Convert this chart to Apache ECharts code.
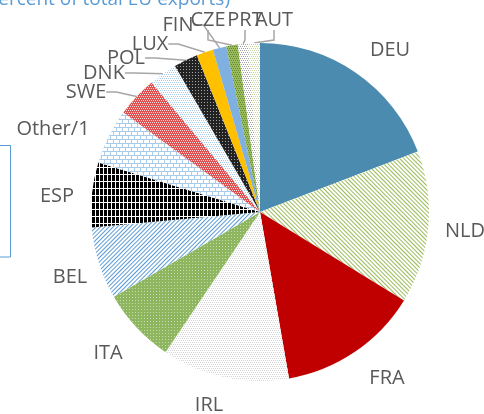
<!DOCTYPE html>
<html>
<head>
<meta charset="utf-8">
<script src="https://cdn.jsdelivr.net/npm/echarts@6/dist/echarts.min.js"></script>
<style>
  html, body { margin: 0; padding: 0; background: #fff; }
  #chart { width: 484px; height: 414px; }
</style>
</head>
<body>
<div id="chart"></div>
<script>
// share of total EU exports, percent
var countries = ['DEU', 'NLD', 'FRA', 'IRL', 'ITA', 'BEL', 'ESP', 'Other/1',
  'SWE', 'DNK', 'POL', 'LUX', 'FIN', 'CZE', 'PRT', 'AUT']
var shares = [19.2, 14.6, 13.5, 12.2, 7.2, 6.9, 6.2, 5.3,
  3.9, 2.7, 2.3, 1.6, 1.3, 1.1, 1.0, 1.1]

// where the labels sit, and which ones get a leader line
var labelPos = [
  [390, 50], [465, 231], [387, 378], [209, 405], [108, 353], [70, 277],
  [57, 196], [53, 129], [86, 92], [104, 73], [126, 58], [150, 44],
  [178, 25], [208, 20], [245, 20], [274, 20]
]
var withLine = [false, false, false, false, false, false, false, false,
  true, true, true, true, true, true, true, true]

var checker = [[1, 1], [0, 1, 1, 0]]
var styles = [
  { color: '#4B8BAF' },
  { color: '#ffffff', decal: { symbol: 'rect', color: '#9BBB59', dashArrayX: [1, 0], dashArrayY: [1, 2], rotation: Math.PI / 4 } },
  { color: '#C00000' },
  { color: '#ffffff', decal: { symbol: 'rect', color: '#D4D4D4', dashArrayX: checker, dashArrayY: [1, 1] } },
  { color: '#8DB65F', decal: { symbol: 'rect', color: 'rgba(255,255,255,0.5)', dashArrayX: [1, 2], dashArrayY: [1, 2] } },
  { color: '#ffffff', decal: { symbol: 'rect', color: '#5B9BD5', dashArrayX: [1, 0], dashArrayY: [1, 2], rotation: -Math.PI / 4 } },
  { color: '#ffffff', decal: { symbol: 'rect', color: '#000000', dashArrayX: [3, 1], dashArrayY: [6, 1] } },
  { color: '#A9CBEA', decal: { symbol: 'rect', color: '#ffffff', dashArrayX: [[5, 1], [2, 1, 3, 0]], dashArrayY: [3, 1] } },
  { color: '#E05050', decal: { symbol: 'rect', color: 'rgba(255,255,255,0.8)', dashArrayX: checker, dashArrayY: [1, 1] } },
  { color: '#ffffff', decal: { symbol: 'rect', color: '#A9CBEA', dashArrayX: checker, dashArrayY: [1, 1] } },
  { color: '#222222', decal: { symbol: 'rect', color: 'rgba(255,255,255,0.6)', dashArrayX: [1, 2], dashArrayY: [1, 2] } },
  { color: '#FFC000' },
  { color: '#7FB0DF' },
  { color: '#9BBB59', decal: { symbol: 'rect', color: '#5E8A3A', dashArrayX: checker, dashArrayY: [1, 1] } },
  { color: '#ffffff', decal: { symbol: 'rect', color: '#A0A0A0', dashArrayX: checker, dashArrayY: [1, 1] } },
  { color: '#ffffff', decal: { symbol: 'rect', color: '#C4D79B', dashArrayX: checker, dashArrayY: [1, 1] } }
]

var pieData = countries.map(function (name, i) {
  return {
    name: name,
    value: shares[i],
    itemStyle: styles[i],
    labelLine: { show: withLine[i] }
  }
})

var chart = echarts.init(document.getElementById('chart'), null, { renderer: 'canvas' })
chart.setOption({
  animation: false,
  graphic: [
    {
      type: 'text',
      left: -19,
      top: -10,
      style: {
        text: '(percent of total EU exports)',
        font: '19px "Open Sans"',
        fill: '#5B9BD5'
      }
    },
    {
      type: 'rect',
      shape: { x: -20, y: 145.5, width: 30.5, height: 111.5 },
      style: { fill: 'none', stroke: '#5B9BD5', lineWidth: 1 }
    }
  ],
  series: [
    {
      type: 'pie',
      center: [260, 212],
      radius: 169,
      startAngle: 90,
      clockwise: true,
      silent: true,
      itemStyle: {
        borderWidth: 0
      },
      label: {
        show: true,
        position: 'outside',
        overflow: 'none',
        fontFamily: 'Open Sans',
        fontSize: 20,
        color: '#595959'
      },
      labelLine: {
        length: 12,
        length2: 10,
        lineStyle: { color: '#A6A6A6', width: 1.5 }
      },
      labelLayout: function (params) {
        var p = labelPos[params.dataIndex]
        return { x: p[0], y: p[1], align: 'center', verticalAlign: 'middle' }
      },
      data: pieData
    }
  ]
})
</script>
</body>
</html>
